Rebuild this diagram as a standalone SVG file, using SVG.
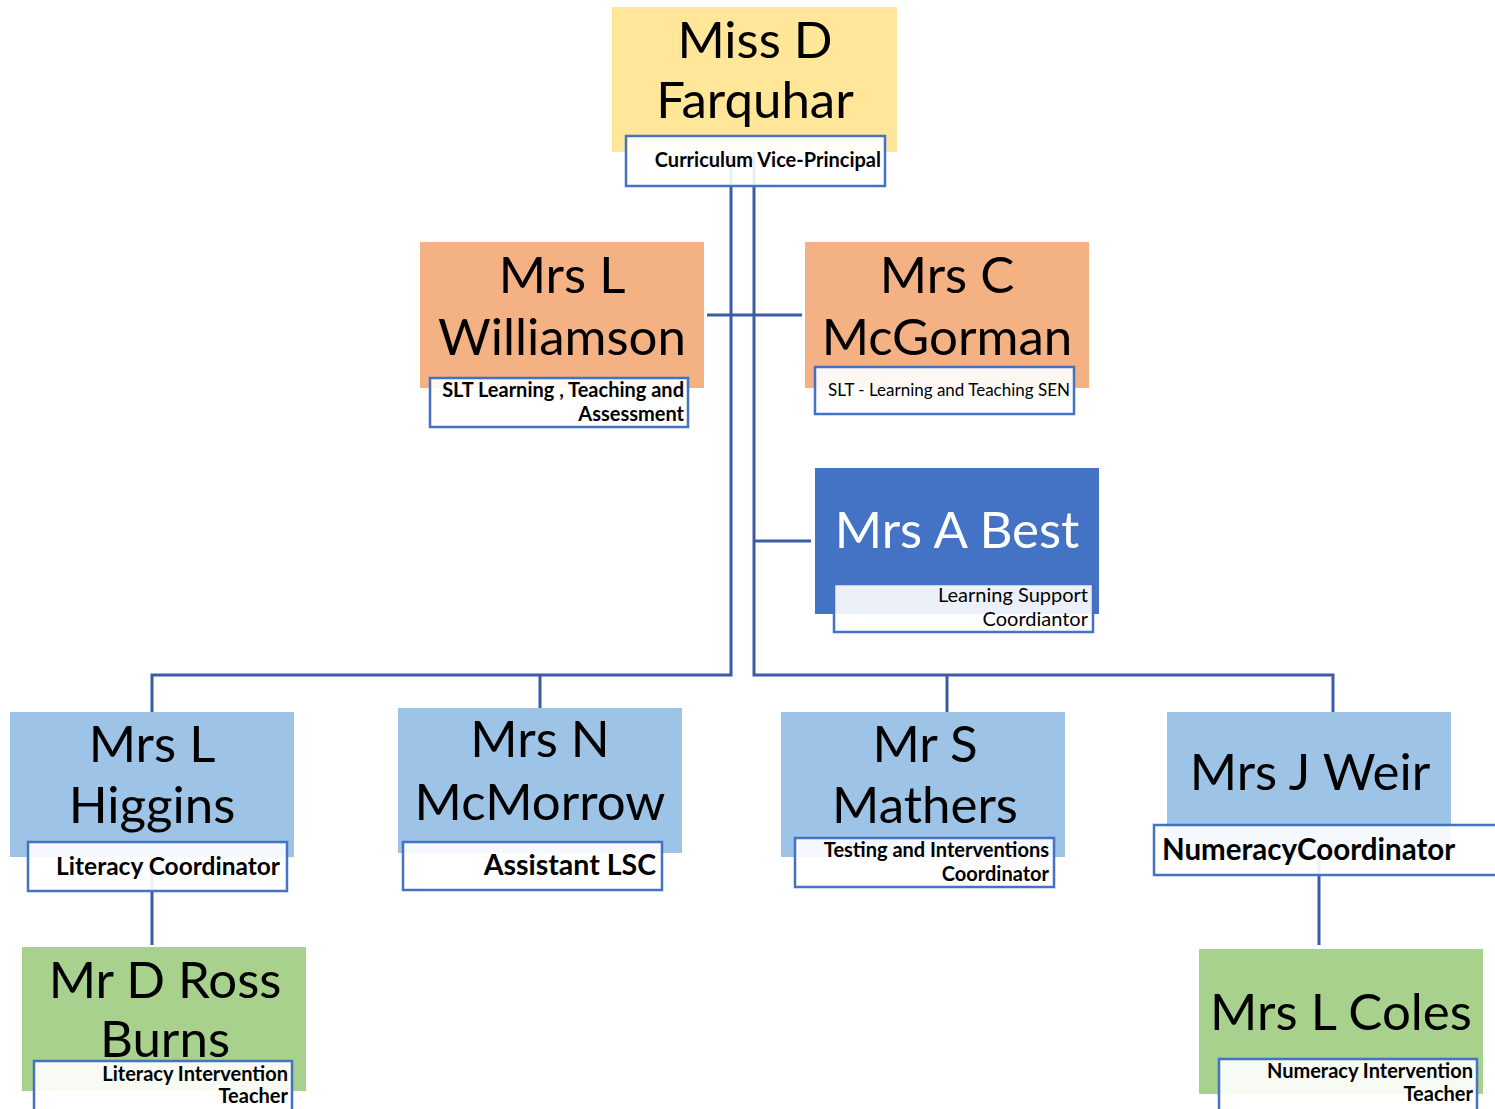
<svg xmlns="http://www.w3.org/2000/svg" width="1495" height="1109" viewBox="0 0 1495 1109">
<style>
.name{font-family:Lato,"Liberation Sans",sans-serif;font-size:51px;fill:#000;text-anchor:middle}
.lbl{fill:#fff;fill-opacity:0.9;stroke:#4472C4;stroke-width:2.5}
.lt{font-family:Lato,"Liberation Sans",sans-serif;font-size:20px;font-weight:bold;fill:#000;text-anchor:end}
.conn{stroke:#3A5BA6;stroke-width:3;fill:none}
</style>
<rect width="1495" height="1109" fill="#fff"/>
<g id="connectors">
<path class="conn" d="M731 152V675H152V712"/>
<path class="conn" d="M754 152V675H1333V712"/>
<path class="conn" d="M540 675V708"/>
<path class="conn" d="M947 675V712"/>
<path class="conn" d="M707 315H802"/>
<path class="conn" d="M754 541H811"/>
<path class="conn" d="M152 857V945"/>
<path class="conn" d="M1319 857V945"/>
</g>
<g id="farquhar">
<rect x="612" y="7" width="285" height="145" fill="#FFE699"/>
<text class="name" x="755" y="58">Miss D</text>
<text class="name" x="755" y="118">Farquhar</text>
<rect class="lbl" x="626" y="136" width="259" height="50"/>
<text class="lt" x="881" y="167">Curriculum Vice-Principal</text>
</g>
<g id="williamson">
<rect x="420" y="242" width="284" height="146" fill="#F4B183"/>
<text class="name" x="562" y="293">Mrs L</text>
<text class="name" x="562" y="355">Williamson</text>
<rect class="lbl" x="430" y="378" width="258" height="49"/>
<text class="lt" x="684" y="397">SLT Learning , Teaching and</text>
<text class="lt" x="684" y="421">Assessment</text>
</g>
<g id="mcgorman">
<rect x="805" y="242" width="284" height="146" fill="#F4B183"/>
<text class="name" x="947" y="293">Mrs C</text>
<text class="name" x="947" y="355">McGorman</text>
<rect class="lbl" x="815" y="367" width="259" height="47"/>
<text class="lt" x="1070" y="396" style="font-weight:normal;font-size:17px">SLT - Learning and Teaching SEN</text>
</g>
<g id="best">
<rect x="815" y="468" width="284" height="146" fill="#4472C4"/>
<text class="name" x="957" y="548" style="fill:#fff">Mrs A Best</text>
<rect class="lbl" x="834" y="584" width="259" height="48"/>
<text class="lt" x="1088" y="602" style="font-weight:normal">Learning Support</text>
<text class="lt" x="1088" y="626" style="font-weight:normal">Coordiantor</text>
</g>
<g id="higgins">
<rect x="10" y="712" width="284" height="145" fill="#9DC3E6"/>
<text class="name" x="152" y="762">Mrs L</text>
<text class="name" x="152" y="823">Higgins</text>
<rect class="lbl" x="28" y="842" width="259" height="49"/>
<text class="lt" x="280" y="875" style="font-size:24.5px">Literacy Coordinator</text>
</g>
<g id="mcmorrow">
<rect x="398" y="708" width="284" height="145" fill="#9DC3E6"/>
<text class="name" x="540" y="757">Mrs N</text>
<text class="name" x="540" y="820">McMorrow</text>
<rect class="lbl" x="403" y="842" width="259" height="48"/>
<text class="lt" x="656" y="875" style="font-size:28.5px">Assistant LSC</text>
</g>
<g id="mathers">
<rect x="781" y="712" width="284" height="145" fill="#9DC3E6"/>
<text class="name" x="925" y="762">Mr S</text>
<text class="name" x="925" y="823">Mathers</text>
<rect class="lbl" x="795" y="838" width="259" height="49"/>
<text class="lt" x="1049" y="857">Testing and Interventions</text>
<text class="lt" x="1049" y="881">Coordinator</text>
</g>
<g id="weir">
<rect x="1167" y="712" width="284" height="145" fill="#9DC3E6"/>
<text class="name" x="1310" y="790">Mrs J Weir</text>
<rect class="lbl" x="1154" y="825" width="345" height="50"/>
<text class="lt" x="1162" y="860" style="font-size:29.5px;text-anchor:start">NumeracyCoordinator</text>
</g>
<g id="rossburns">
<rect x="22" y="947" width="284" height="144" fill="#A9D18E"/>
<text class="name" x="165" y="998">Mr D Ross</text>
<text class="name" x="165" y="1057">Burns</text>
<rect class="lbl" x="34" y="1061" width="258" height="52"/>
<text class="lt" x="288" y="1081">Literacy Intervention</text>
<text class="lt" x="288" y="1103">Teacher</text>
</g>
<g id="coles">
<rect x="1199" y="949" width="284" height="145" fill="#A9D18E"/>
<text class="name" x="1341" y="1030">Mrs L Coles</text>
<rect class="lbl" x="1219" y="1059" width="258" height="54"/>
<text class="lt" x="1473" y="1078">Numeracy Intervention</text>
<text class="lt" x="1473" y="1101">Teacher</text>
</g>
</svg>
